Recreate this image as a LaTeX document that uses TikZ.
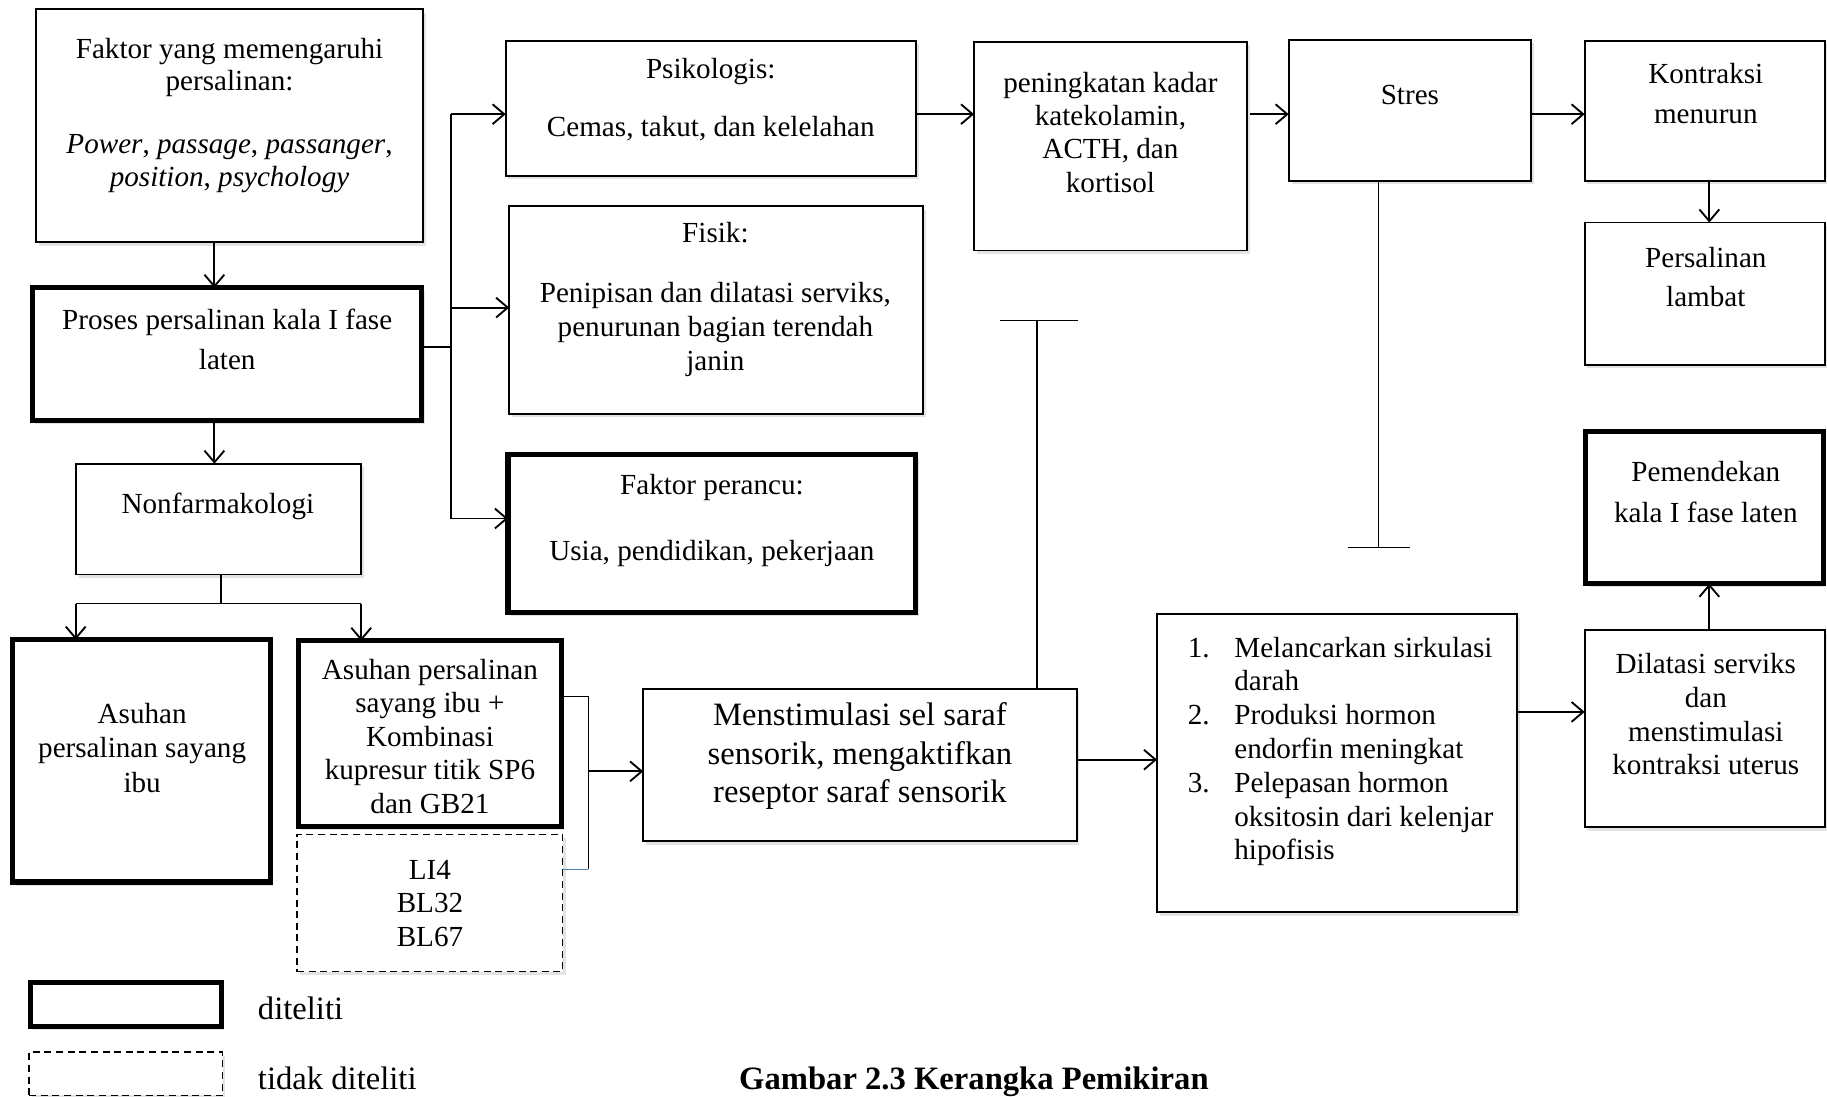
\documentclass[tikz,border=0pt]{standalone}
\usepackage{fontspec}
\setmainfont{Liberation Serif}
\usetikzlibrary{arrows.meta,shadows}
\newcommand\fb[2][12.5pt]{\fontsize{#1}{#2}\selectfont}
\newcommand\mkbox[6]{\node[#1, minimum width={(#5-#3)*0.5pt}, minimum height={(#6-#4)*0.5pt}] (#2) at (#3,#4) {};}
\begin{document}
\begin{tikzpicture}[x=0.5pt,y=-0.5pt,
 bxbase/.style={draw, fill=white, inner sep=0pt, outer sep=0pt, anchor=north west,
   drop shadow={opacity=0.22, shadow xshift=1.2pt, shadow yshift=-1.5pt}},
 bxthin/.style={bxbase, line width=0.8pt},
 bxthick/.style={bxbase, line width=2.2pt},
 bxdash/.style={bxbase, line width=0.6pt, dash pattern=on 3pt off 2pt},
 tx/.style={align=center, anchor=base, inner sep=0pt},
 lt/.style={align=left, anchor=base west, inner sep=0pt},
 arr/.style={line width=0.8pt, -{Straight Barb[length=5pt,width=8.5pt]}},
 ln/.style={line width=0.8pt},
 tline/.style={line width=0.6pt},
]
\useasboundingbox (0,0) rectangle (1568,941);

% ---------- boxes ----------
\mkbox{bxthin}{faktor}{31}{8}{363}{208}
\mkbox{bxthick}{proses}{28}{247}{362}{361}
\mkbox{bxthin}{nonf}{65}{398}{310}{493}
\mkbox{bxthick}{asuhA}{11}{549}{232}{757}
\mkbox{bxthick}{asuhB}{256}{550}{482}{709}
\mkbox{bxdash}{li4}{255}{716}{483}{834}
\mkbox{bxthin}{mens}{552}{591}{924}{722}
\mkbox{bxthin}{list}{993}{527}{1302}{783}
\mkbox{bxthin}{dil}{1360}{541}{1566}{710}
\mkbox{bxthick}{pem}{1361}{370}{1565}{501}
\mkbox{bxthin}{psi}{434}{35}{786}{151}
\mkbox{bxthin}{fis}{437}{177}{792}{355}
\mkbox{bxthick}{per}{436}{390}{786}{526}
\mkbox{bxthin}{pen}{836}{36}{1070}{215}
\mkbox{bxthin}{str}{1106}{34}{1314}{155}
\mkbox{bxthin}{kon}{1360}{35}{1566}{155}
\mkbox{bxthin}{pl}{1360}{191}{1566}{313}
\mkbox{bxthick}{legA}{26}{843}{190}{881}
\mkbox{bxdash}{legB}{25}{903}{191}{940}

% ---------- texts (anchor base = last line baseline) ----------
\node[tx, font={\fb{14pt}}] (faktorT) at (197,160) {Faktor yang memengaruhi\\persalinan:\\[13pt]\textit{Power}, \textit{passage}, \textit{passanger},\\\textit{position}, \textit{psychology}};
\node[tx, font={\fb{17pt}}] (prosesT) at (195,317) {Proses persalinan kala I fase\\laten};
\node[tx, font={\fb{14pt}}] (nonfT) at (187,441) {Nonfarmakologi};
\node[tx, font={\fb{14.75pt}}] (asuhAT) at (122,680) {Asuhan\\persalinan sayang\\ibu};
\node[tx, font={\fb{14.4pt}}] (asuhBT) at (369,698) {Asuhan persalinan\\sayang ibu +\\Kombinasi\\kupresur titik SP6\\dan GB21};
\node[tx, font={\fb{14.3pt}}] (li4T) at (369,812) {LI4\\BL32\\BL67};
\node[tx, font={\fb[14pt]{16.5pt}}] (mensT) at (738,689) {Menstimulasi sel saraf\\sensorik, mengaktifkan\\reseptor saraf sensorik};
\node[lt, font={\fb{14.5pt}}] (listN) at (1019,680) {1.\\[14.5pt]2.\\[14.5pt]3.};
\node[lt, font={\fb{14.5pt}}] (listT) at (1059,738) {Melancarkan sirkulasi\\darah\\Produksi hormon\\endorfin meningkat\\Pelepasan hormon\\oksitosin dari kelenjar\\hipofisis};
\node[tx, font={\fb{14.5pt}}] (dilT) at (1464,665) {Dilatasi serviks\\dan\\menstimulasi\\kontraksi uterus};
\node[tx, font={\fb{17.5pt}}] (pemT) at (1464,448) {Pemendekan\\kala I fase laten};
\node[tx, font={\fb{14pt}}] (psiT) at (610,117) {Psikologis:\\[11pt]Cemas, takut, dan kelelahan};
\node[tx, font={\fb{14.5pt}}] (fisT) at (614,318) {Fisik:\\[11.5pt]Penipisan dan dilatasi serviks,\\penurunan bagian terendah\\janin};
\node[tx, font={\fb{14.5pt}}] (perT) at (611,481) {Faktor perancu:\\[14pt]Usia, pendidikan, pekerjaan};
\node[tx, font={\fb{14.3pt}}] (penT) at (953,165) {peningkatan kadar\\katekolamin,\\ACTH, dan\\kortisol};
\node[tx, font={\fb{14pt}}] (strT) at (1210,90) {Stres};
\node[tx, font={\fb{17pt}}] (konT) at (1464,106) {Kontraksi\\menurun};
\node[tx, font={\fb{16.5pt}}] (plT) at (1464,263) {Persalinan\\lambat};
\node[lt, font={\fb[14pt]{16pt}}] (legAT) at (221,875) {diteliti};
\node[lt, font={\fb[14pt]{16pt}}] (legBT) at (221,935) {tidak diteliti};
\node[lt, font={\fb[14pt]{16pt}\bfseries}] (capT) at (634,935) {Gambar 2.3 Kerangka Pemikiran};

% ---------- helper coordinates ----------
\coordinate (x184) at (184,0);
\coordinate (bx) at (387,0);
\coordinate (rowA) at (0,98);
\coordinate (rowF) at (0,264);
\coordinate (rowP) at (0,445);
\coordinate (rowD) at (0,611);
\coordinate (split) at (190,518);
\coordinate (xa) at (65,518);
\coordinate (xb) at (310,518);
\coordinate (brT) at (505,598);
\coordinate (brM) at (505,662);
\coordinate (brB) at (505,746);
\coordinate (mT) at (890,275);
\coordinate (sT) at (1183,470);
\coordinate (x1467) at (1467,0);

% ---------- connectors ----------
\draw[arr] (faktor.south -| x184) -- (proses.north -| x184);
\draw[arr] (proses.south -| x184) -- (nonf.north -| x184);

\draw[ln] (proses.east |- 0,298) -- (bx |- 0,298);
\draw[ln] (bx |- rowA) -- (bx |- rowP);
\draw[arr] (bx |- rowA) -- (psi.west |- rowA);
\draw[arr] (bx |- rowF) -- (fis.west |- rowF);
\draw[arr] (bx |- rowP) -- (per.west |- rowP);

\draw[arr] (psi.east |- rowA) -- (pen.west |- rowA);
\draw[arr] ([xshift=1.5pt]pen.east |- rowA) -- (str.west |- rowA);
\draw[arr] (str.east |- rowA) -- (kon.west |- rowA);
\draw[arr] (kon.south -| x1467) -- (pl.north -| x1467);

\draw[tline] (str.south -| sT) -- (sT);
\draw[tline] ([xshift=-13pt]sT) -- ([xshift=13.5pt]sT);
\draw[tline] (mens.north -| mT) -- (mT);
\draw[tline] ([xshift=-16pt]mT) -- ([xshift=17.5pt]mT);

\draw[ln] (nonf.south -| split) -- (split);
\draw[ln] (xa) -- (xb);
\draw[arr] (xa) -- (xa |- asuhA.north);
\draw[arr] (xb) -- (xb |- asuhB.north);

\draw[tline] (asuhB.east |- brT) -- (brT) -- (brB);
\draw[tline, draw={rgb,255:red,79;green,129;blue,189}] (brB) -- (li4.east |- brB);
\draw[arr] (brM) -- (mens.west |- brM);

\draw[arr] (mens.east |- 0,652) -- (list.west |- 0,652);
\draw[arr] (list.east |- rowD) -- (dil.west |- rowD);
\draw[arr] (dil.north -| x1467) -- (pem.south -| x1467);
\end{tikzpicture}
\end{document}
